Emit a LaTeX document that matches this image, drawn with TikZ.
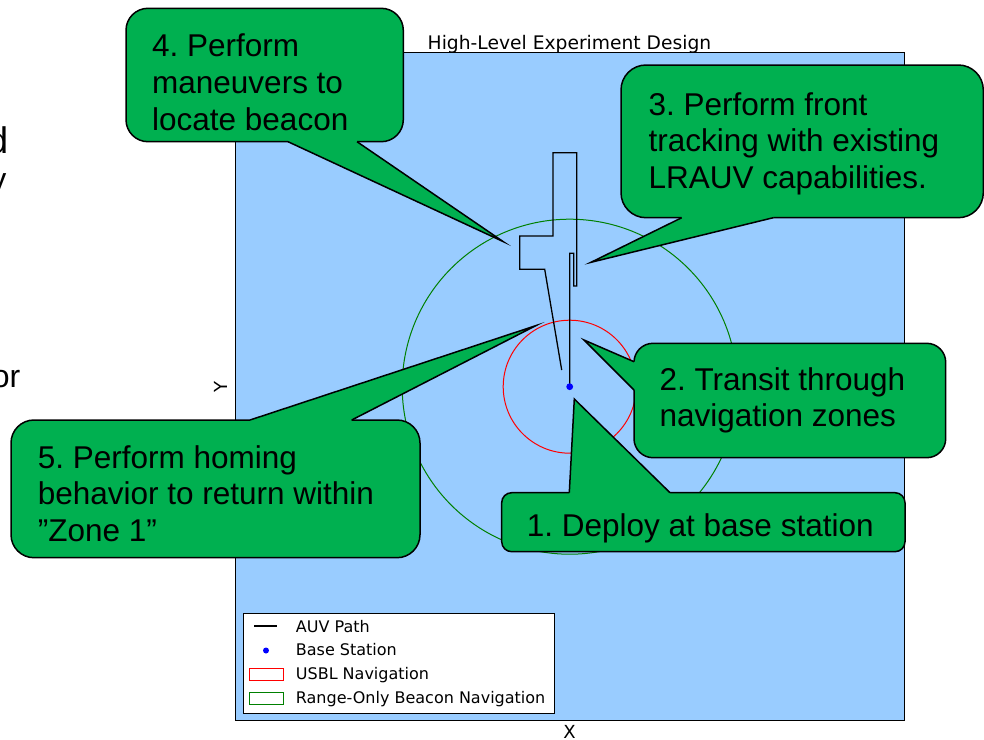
\documentclass[tikz,border=0pt]{standalone}
\usepackage{fontspec}
\setmainfont{Liberation Sans}
\newfontfamily\plotfont{DejaVu Sans}
\usetikzlibrary{calc}
\definecolor{calloutgreen}{RGB}{0,176,80}
\definecolor{seablue}{RGB}{153,204,255}
\definecolor{mplgreen}{RGB}{0,128,0}
\definecolor{mplred}{RGB}{255,0,0}
\definecolor{mplblue}{RGB}{0,0,255}
\frenchspacing

\begin{document}
\begin{tikzpicture}[x=1pt,y=-1pt,
  calloutbox/.style={draw=black, line width=1.5pt, fill=calloutgreen,
    rounded corners=#1, inner sep=0pt, outer sep=0pt, anchor=north west},
  pointerfill/.style={fill=calloutgreen},
  pointeredge/.style={draw=black, line width=1.5pt, line join=miter, miter limit=40},
  callouttext/.style={inner sep=0pt, anchor=base west, text=black,
    font=\fontsize{31.5}{36.9}\selectfont},
  slidetext/.style={inner sep=0pt, anchor=base east, text=black},
  plottext/.style={inner sep=0pt, text=black, font=\plotfont\fontsize{16}{19}\selectfont},
  auvpath/.style={draw=black, line width=1.3pt, line join=miter},
  zone/.style={line width=1pt},
]
\useasboundingbox (0,0) rectangle (984,739);

% fragments of slide text cut off at the left edge
\node[slidetext, font=\fontsize{37}{40}\selectfont] (fragd) at (8.5,153.3) {d};
\node[slidetext, font=\fontsize{32}{36}\selectfont] (fragy) at (6.5,190) {y};
\node[slidetext, font=\fontsize{32}{36}\selectfont] (fragor) at (20.5,387.3) {or};

% plot area
\node[draw=black, line width=1pt, fill=seablue, inner sep=0pt, outer sep=0pt,
      minimum width=669pt, minimum height=668.5pt, anchor=north west] (plot) at (235,52.3) {};
\node[plottext, anchor=base, font=\plotfont\fontsize{18.7}{22}\selectfont] (title) at (569.5,49.3)
  {High-Level Experiment Design};
\node[plottext, anchor=base, font=\plotfont\fontsize{18}{22}\selectfont] (xlabel) at (569.5,738) {X};
\node[plottext, anchor=base, rotate=90, font=\plotfont\fontsize{18}{22}\selectfont] (ylabel) at (227.5,387) {Y};

% navigation zones around the base station
\coordinate (base) at (569.7,386.7);
\draw[zone, mplgreen] (base) circle[radius=167.5];
\draw[zone, mplred] (base) circle[radius=66.5];

% AUV path
\coordinate (p1) at (569.7,253.3);
\coordinate (p2) at (573.7,253.3);
\coordinate (p3) at (573.7,286);
\coordinate (p4) at (576.7,286);
\coordinate (p5) at (576.7,152.7);
\coordinate (p6) at (553,152.7);
\coordinate (p7) at (553,236);
\coordinate (p8) at (519.7,236);
\coordinate (p9) at (519.7,269.3);
\coordinate (p10) at (544.7,269.3);
\coordinate (p11) at (561.7,370);
\draw[auvpath] (base) -- (p1) -- (p2) -- (p3) -- (p4) -- (p5) -- (p6) -- (p7)
  -- (p8) -- (p9) -- (p10) -- (p11);
\fill[mplblue] (base) circle[radius=3.4];

% legend
\node[draw=black, line width=1pt, fill=white, inner sep=0pt, outer sep=0pt,
      minimum width=311pt, minimum height=100pt, anchor=north west] (legend) at (243,613) {};
\draw[black, line width=1.3pt] ($(legend.north west)+(11,13)$) -- ($(legend.north west)+(34,13)$);
\fill[mplblue] ($(legend.north west)+(23,37.5)$) circle[radius=3];
\draw[mplred, line width=1pt] ($(legend.north west)+(6.7,55)$) rectangle ($(legend.north west)+(40,67)$);
\draw[mplgreen, line width=1pt] ($(legend.north west)+(6.7,79.5)$) rectangle ($(legend.north west)+(40,91.5)$);
\node[plottext, anchor=base west] (lg1) at (295.7,632) {AUV Path};
\node[plottext, anchor=base west] (lg2) at (295.7,655.7) {Base Station};
\node[plottext, anchor=base west] (lg3) at (295.7,679.3) {USBL Navigation};
\node[plottext, anchor=base west] (lg4) at (295.7,703) {Range-Only Beacon Navigation};

% callout 4
\node[calloutbox=22pt, minimum width=277.3pt, minimum height=133.4pt] (c4) at (126,8.3) {};
\coordinate (t4) at (503,241.5);
\fill[pointerfill] ($(c4.south west)+(162,0)$) -- (t4) -- ($(c4.south west)+(231,0)$)
  -- ($(c4.south west)+(231,-3)$) -- ($(c4.south west)+(162,-3)$) -- cycle;
\draw[pointeredge] ($(c4.south west)+(162,0)$) -- (t4) -- ($(c4.south west)+(231,0)$);
\node[callouttext] (l4) at (152,56.7) {\parbox[t]{300pt}{4. Perform\\maneuvers to\\locate beacon}};

% callout 3
\node[calloutbox=25pt, minimum width=362.3pt, minimum height=152.7pt] (c3) at (621,65) {};
\coordinate (t3) at (591,262.3);
\fill[pointerfill] ($(c3.south west)+(60.7,0)$) -- (t3) -- ($(c3.south west)+(152.3,0)$)
  -- ($(c3.south west)+(152.3,-3)$) -- ($(c3.south west)+(60.7,-3)$) -- cycle;
\draw[pointeredge] ($(c3.south west)+(60.7,0)$) -- (t3) -- ($(c3.south west)+(152.3,0)$);
\node[callouttext] (l3) at (648.3,115) {\parbox[t]{330pt}{3. Perform front\\tracking with existing\\LRAUV capabilities.}};

% callout 2
\node[calloutbox=19pt, minimum width=311.7pt, minimum height=114.4pt] (c2) at (634,343.3) {};
\coordinate (t2) at (584,340);
\fill[pointerfill] ($(c2.north west)+(0,18.4)$) -- (t2) -- ($(c2.north west)+(0,46.7)$)
  -- ($(c2.north west)+(3,46.7)$) -- ($(c2.north west)+(3,18.4)$) -- cycle;
\draw[pointeredge] ($(c2.north west)+(0,18.4)$) -- (t2) -- ($(c2.north west)+(0,46.7)$);
\node[callouttext] (l2) at (659.3,390) {\parbox[t]{300pt}{2. Transit through\\navigation zones}};

% callout 1
\node[calloutbox=10pt, minimum width=403.3pt, minimum height=59pt] (c1) at (501.7,492.7) {};
\coordinate (t1) at (574.3,399);
\fill[pointerfill] ($(c1.north west)+(67.6,0)$) -- (t1) -- ($(c1.north west)+(168.3,0)$)
  -- ($(c1.north west)+(168.3,3)$) -- ($(c1.north west)+(67.6,3)$) -- cycle;
\draw[pointeredge] ($(c1.north west)+(67.6,0)$) -- (t1) -- ($(c1.north west)+(168.3,0)$);
\node[callouttext] (l1) at (526.7,536) {1. Deploy at base station};

% callout 5
\node[calloutbox=23pt, minimum width=409pt, minimum height=137.7pt] (c5) at (11,420) {};
\coordinate (t5) at (535.7,325.7);
\fill[pointerfill] ($(c5.north west)+(239,0)$) -- (t5) -- ($(c5.north west)+(340.7,0)$)
  -- ($(c5.north west)+(340.7,3)$) -- ($(c5.north west)+(239,3)$) -- cycle;
\draw[pointeredge] ($(c5.north west)+(239,0)$) -- (t5) -- ($(c5.north west)+(340.7,0)$);
\node[callouttext] (l5) at (37.7,468) {\parbox[t]{400pt}{5. Perform homing\\behavior to return within\\”Zone 1”}};
\end{tikzpicture}
\end{document}
